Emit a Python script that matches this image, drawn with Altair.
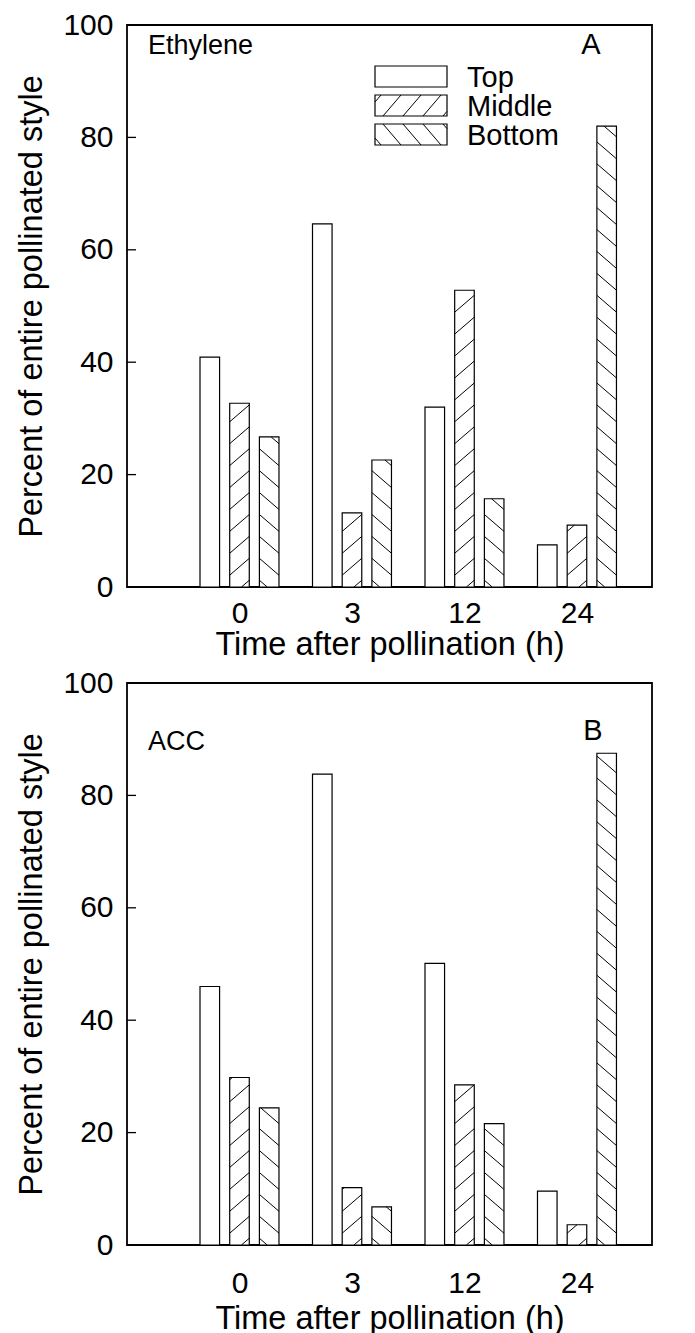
import json
import altair as alt
import pandas as pd

# ---------------- data ----------------
times = ["0", "3", "12", "24"]
parts = ["Top", "Middle", "Bottom"]

eth_top = [40.9, 64.6, 32.0, 7.5]
eth_middle = [32.7, 13.2, 52.8, 11.0]
eth_bottom = [26.7, 22.6, 15.7, 82.0]

acc_top = [46.0, 83.8, 50.1, 9.6]
acc_middle = [29.8, 10.2, 28.5, 3.6]
acc_bottom = [24.4, 6.8, 21.6, 87.5]

y_ticks = [0, 20, 40, 60, 80, 100]

# ---------------- layout / style constants ----------------
FONT = "Liberation Sans"
W, H = 525, 562
X_DOMAIN = [-1.0, 3.667]
BAR_HALF = 0.087
BAR_STEP = 0.264
HATCH_SPACING = 3.9
HATCH_RISE = 3.0


def clip(xa, ya, xb, yb, x0, x1, y0, y1):
    """Liang-Barsky clip of a segment to a rectangle."""
    dx, dy = xb - xa, yb - ya
    t0, t1 = 0.0, 1.0
    for p, q in ((-dx, xa - x0), (dx, x1 - xa), (-dy, ya - y0), (dy, y1 - ya)):
        if p == 0:
            if q < 0:
                return None
            continue
        r = q / p
        if p < 0:
            t0 = max(t0, r)
        else:
            t1 = min(t1, r)
        if t0 > t1:
            return None
    if t1 - t0 < 1e-6:
        return None
    return (xa + t0 * dx, ya + t0 * dy, xa + t1 * dx, ya + t1 * dy)


def bar_table(top, middle, bottom):
    series = {"Top": top, "Middle": middle, "Bottom": bottom}
    rows = []
    for pi, part in enumerate(parts):
        for gi, t in enumerate(times):
            rows.append({"time": t, "gi": gi, "part": part, "pi": pi,
                         "value": series[part][gi]})
    return pd.DataFrame(rows)


def hatch_table(df):
    rows = []
    for r in df.itertuples():
        if r.part == "Top":
            continue
        xc = r.gi + (r.pi - 1) * BAR_STEP
        xl, xr = xc - BAR_HALF, xc + BAR_HALF
        c = -HATCH_RISE + 1.2
        while c < r.value:
            seg = clip(xl, c, xr, c + HATCH_RISE, xl, xr, 0, r.value)
            if seg:
                xa, ya, xb, yb = seg
                if r.part == "Bottom":
                    xa, xb = xl + xr - xa, xl + xr - xb
                rows.append({"x": xa, "y": ya, "x2": xb, "y2": yb})
            c += HATCH_SPACING
    return pd.DataFrame(rows)


def legend_layers():
    bx0, bx1, bh, top0, gap = 248, 320, 21, 41, 29
    boxes, lines, labels = [], [], []
    for i, part in enumerate(parts):
        y0 = top0 + i * gap
        y1 = y0 + bh
        boxes.append({"x": bx0, "x2": bx1, "y": y0, "y2": y1})
        labels.append({"x": bx1 + 20, "y": y1, "label": part})
        if part == "Top":
            continue
        run, step = 18, 20
        c = bx0 - run + 6
        while c < bx1:
            if part == "Middle":
                seg = clip(c, y1, c + run, y0, bx0, bx1, y0, y1)
            else:
                seg = clip(c, y0, c + run, y1, bx0, bx1, y0, y1)
            if seg:
                lines.append({"x": seg[0], "y": seg[1], "x2": seg[2], "y2": seg[3]})
            c += step
    nos = dict(scale=None)
    box = alt.Chart(pd.DataFrame(boxes)).mark_rect(
        fill="white", stroke="black", strokeWidth=1.2
    ).encode(x=alt.X("x:Q", **nos), x2="x2:Q", y=alt.Y("y:Q", **nos), y2="y2:Q")
    hatch = alt.Chart(pd.DataFrame(lines)).mark_rule(
        color="black", strokeWidth=1
    ).encode(x=alt.X("x:Q", **nos), x2="x2:Q", y=alt.Y("y:Q", **nos), y2="y2:Q")
    text = alt.Chart(pd.DataFrame(labels)).mark_text(
        align="left", baseline="alphabetic", font=FONT, fontSize=29, color="black"
    ).encode(x=alt.X("x:Q", **nos), y=alt.Y("y:Q", **nos), text="label:N")
    return [box, hatch, text]


def panel(top, middle, bottom, name, letter, name_pos, letter_pos,
          label_pad, title_pad, with_legend):
    df = bar_table(top, middle, bottom)
    xs = alt.Scale(domain=X_DOMAIN, nice=False, zero=False)
    ys = alt.Scale(domain=[0, 100], nice=False)
    label_expr = json.dumps(times) + "[datum.value]"

    bars = alt.Chart(df).transform_calculate(
        xc=f"datum.gi + (datum.pi - 1) * {BAR_STEP}"
    ).transform_calculate(
        xl=f"datum.xc - {BAR_HALF}", xr=f"datum.xc + {BAR_HALF}"
    ).mark_bar(fill="white", stroke="black", strokeWidth=1.2).encode(
        x=alt.X("xl:Q", scale=xs, axis=alt.Axis(
            values=[0, 1, 2, 3], labelExpr=label_expr, ticks=False, domain=False,
            grid=False, labelFont=FONT, labelFontSize=30, labelPadding=label_pad,
            labelColor="black", title="Time after pollination (h)",
            titleFont=FONT, titleFontSize=32.5, titleFontWeight="normal",
            titleColor="black", titlePadding=title_pad)),
        x2="xr:Q",
        y=alt.Y("value:Q", scale=ys, axis=alt.Axis(
            values=y_ticks, ticks=False, domain=False, grid=False,
            labelFont=FONT, labelFontSize=30, labelPadding=14,
            labelColor="black", title="Percent of entire pollinated style",
            titleFont=FONT, titleFontSize=32.5, titleFontWeight="normal",
            titleColor="black", titlePadding=14)),
        y2=alt.datum(0),
    )

    hatch = alt.Chart(hatch_table(df)).mark_rule(color="black", strokeWidth=1).encode(
        x=alt.X("x:Q", scale=xs), x2="x2:Q",
        y=alt.Y("y:Q", scale=ys), y2="y2:Q",
    )

    ticks = alt.Chart(pd.DataFrame({"t": y_ticks})).mark_rule(
        color="black", strokeWidth=1.3
    ).encode(
        x=alt.value(0),
        x2=alt.value(9),
        y=alt.Y("t:Q", scale=ys),
    )

    nm = alt.Chart(pd.DataFrame({"t": [name]})).mark_text(
        align="left", baseline="alphabetic", font=FONT, fontSize=27, color="black"
    ).encode(x=alt.value(name_pos[0]), y=alt.value(name_pos[1]), text="t:N")
    lt = alt.Chart(pd.DataFrame({"t": [letter]})).mark_text(
        align="center", baseline="alphabetic", font=FONT, fontSize=29, color="black"
    ).encode(x=alt.value(letter_pos[0]), y=alt.value(letter_pos[1]), text="t:N")

    layers = [bars, hatch, ticks, nm, lt]
    if with_legend:
        layers += legend_layers()
    return alt.layer(*layers).properties(width=W, height=H)


pa = panel(eth_top, eth_middle, eth_bottom, "Ethylene", "A",
           (21, 29), (464, 29), 11, 0, True)
pb = panel(acc_top, acc_middle, acc_bottom, "ACC", "B",
           (21, 67), (466, 57), 23, 4, False)

chart = alt.vconcat(pa, pb, spacing=5).properties(
    padding={"left": 7, "top": 1, "right": 2, "bottom": 0},
    background="white",
).configure_view(stroke="black", strokeWidth=1.8)

chart.save("out.html", embed_options={"renderer": "svg", "actions": False})
